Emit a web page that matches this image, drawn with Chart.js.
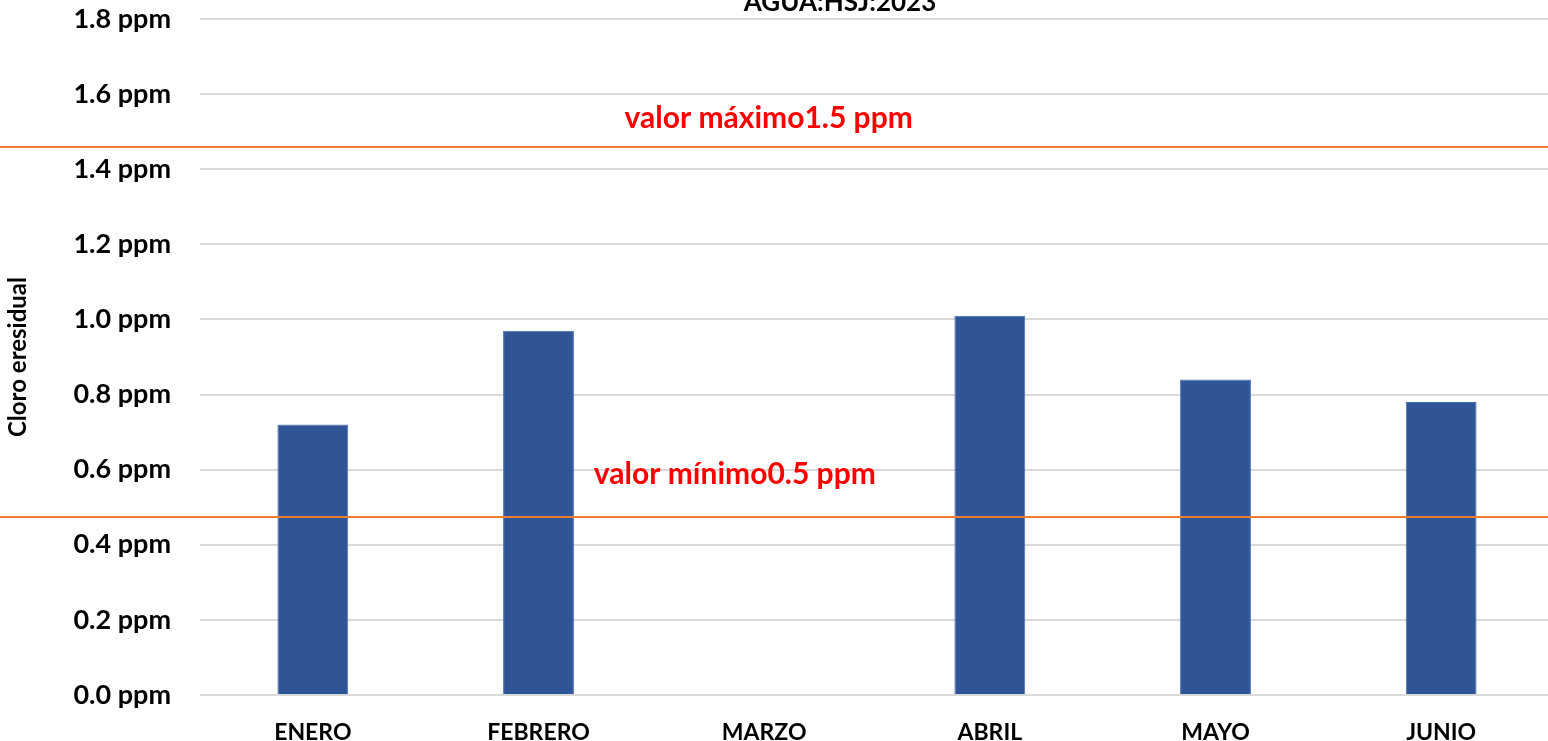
<!DOCTYPE html>
<html>
<head>
<meta charset="utf-8">
<script src="https://cdn.jsdelivr.net/npm/chart.js@4"></script>
<style>
html,body{margin:0;padding:0;background:#fff;overflow:hidden;}
#wrap{position:relative;width:1554px;height:741px;}
</style>
</head>
<body>
<div id="wrap"><canvas id="c"></canvas></div>
<script>
const categories = ['ENERO','FEBRERO','MARZO','ABRIL','MAYO','JUNIO'];
const cloroValues = [0.72, 0.97, 0, 1.01, 0.84, 0.78];
const yTickLabels = ['0.0 ppm','0.2 ppm','0.4 ppm','0.6 ppm','0.8 ppm','1.0 ppm','1.2 ppm','1.4 ppm','1.6 ppm','1.8 ppm'];
const refLineValues = [1.46, 0.474];
const refLineLabels = ['valor máximo1.5 ppm', 'valor mínimo0.5 ppm'];
const titleText = 'AGUA:HSJ:2023';
const yAxisTitle = 'Cloro eresidual';

const FONT = 'Lato, "Open Sans", sans-serif';

const refPlugin = {
  id: 'refLines',
  afterDatasetsDraw(chart) {
    const ctx = chart.ctx;
    const y = chart.scales.y, x = chart.scales.x;
    ctx.save();
    ctx.strokeStyle = '#ED7D31';
    ctx.lineWidth = 2;
    refLineValues.forEach(v => {
      const py = Math.round(y.getPixelForValue(v));
      ctx.beginPath();
      ctx.moveTo(0, py);
      ctx.lineTo(chart.width, py);
      ctx.stroke();
    });
    ctx.fillStyle = '#FF0000';
    ctx.font = 'bold 30px ' + FONT;
    ctx.textAlign = 'center';
    ctx.textBaseline = 'middle';
    const step = x.getPixelForValue(1) - x.getPixelForValue(0);
    const lx0 = x.getPixelForValue(2) + 0.02 * step;
    const lx1 = x.getPixelForValue(2) - 0.13 * step;
    ctx.fillText(refLineLabels[0], lx0, y.getPixelForValue(refLineValues[0]) - 28);
    ctx.fillText(refLineLabels[1], lx1, y.getPixelForValue(refLineValues[1]) - 43);
    ctx.fillStyle = '#000';
    ctx.font = 'bold 26px ' + FONT;
    ctx.textBaseline = 'alphabetic';
    ctx.fillText(titleText, (x.getPixelForValue(2) + x.getPixelForValue(3)) / 2 - 37, 11);
    ctx.restore();
  }
};

new Chart(document.getElementById('c'), {
  type: 'bar',
  data: {
    labels: categories,
    datasets: [{
      data: cloroValues,
      backgroundColor: '#2F5597',
      borderColor: '#4A6FAE',
      borderWidth: 1,
      barPercentage: 0.314,
      categoryPercentage: 1.0
    }]
  },
  options: {
    responsive: true,
    maintainAspectRatio: false,
    animation: false,
    layout: { padding: { top: 19, right: 0, left: 0, bottom: 0 } },
    plugins: { legend: { display: false }, tooltip: { enabled: false }, title: { display: false } },
    scales: {
      x: {
        grid: { display: false, drawTicks: false },
        border: { display: false },
        ticks: { color: '#000', font: { family: FONT, weight: 'bold', size: 23 }, padding: 24, maxRotation: 0 },
        afterFit(s) { s.height = 46; }
      },
      y: {
        min: 0, max: 1.8,
        grid: { color: '#D9D9D9', lineWidth: 2, drawTicks: false },
        border: { display: false },
        ticks: {
          stepSize: 0.2,
          color: '#000',
          padding: 29,
          font: { family: FONT, weight: 'bold', size: 27 },
          callback: (v, i) => yTickLabels[i]
        },
        title: { display: true, text: yAxisTitle, color: '#000', font: { family: FONT, weight: 'bold', size: 24 }, padding: { top: 4, bottom: 0 } },
        afterFit(s) { s.width = 200; s.paddingTop = 0; s.paddingBottom = 0; }
      }
    }
  },
  plugins: [refPlugin]
});
</script>
</body>
</html>
